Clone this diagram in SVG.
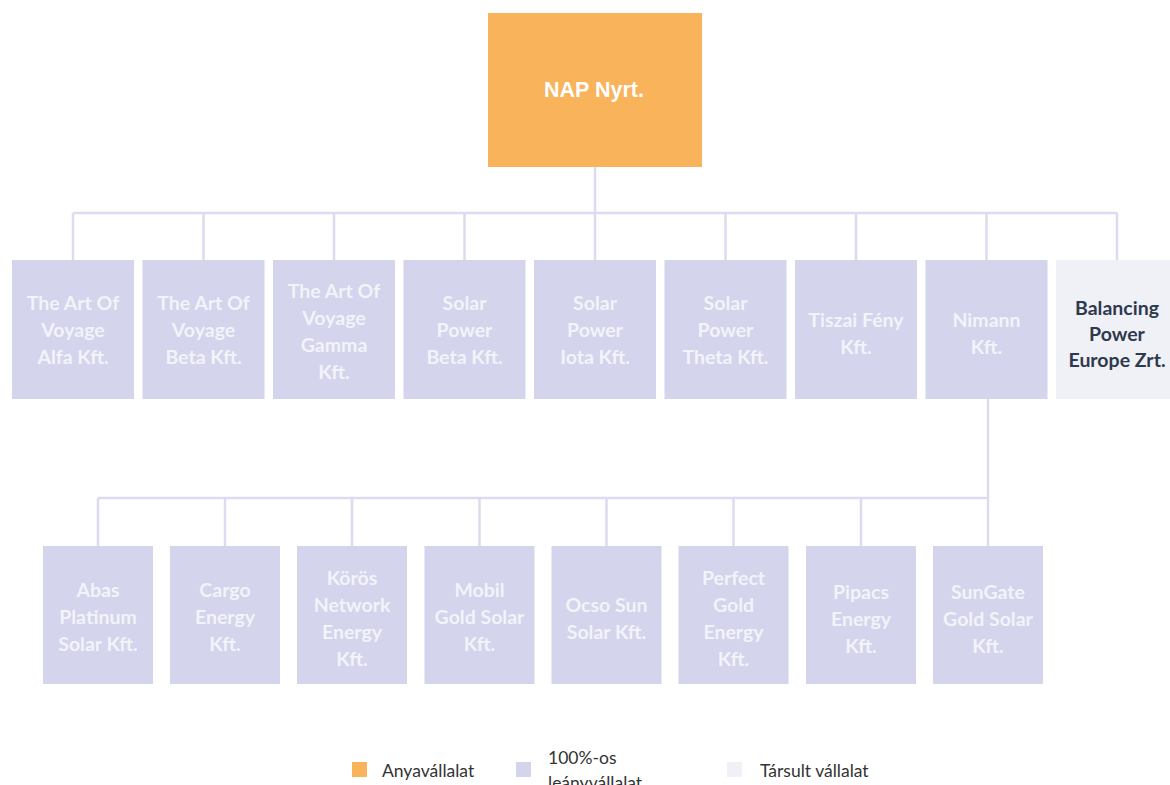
<svg xmlns="http://www.w3.org/2000/svg" width="1170" height="785" viewBox="0 0 1170 785">
<style>
.sub{fill:#d4d4ec}
.assoc{fill:#f0f0f7}
.parent{fill:#f8b35b}
.t{font-family:Lato,"Open Sans","Liberation Sans",sans-serif;font-weight:bold;font-size:19.5px;text-anchor:middle;fill:#f3f3fa}
.td{font-family:Lato,"Open Sans","Liberation Sans",sans-serif;font-weight:bold;font-size:19.5px;text-anchor:middle;fill:#2e3a4c}
.tp{font-family:"Liberation Sans",Arial,sans-serif;font-weight:bold;font-size:21.5px;text-anchor:middle;fill:#ffffff}
.lg{font-family:Lato,"Open Sans","Liberation Sans",sans-serif;font-size:17.5px;fill:#333333}
.c{stroke:#dcdcf0;stroke-width:2.5;fill:none}
</style>
<rect width="1170" height="785" fill="#ffffff"/>
<g id="connectors" class="c">
<path d="M595 167V213M73 213H1117M73 213V260M203.5 213V260M334 213V260M464.5 213V260M595 213V260M725.5 213V260M856 213V260M986.5 213V260M1117 213V260"/>
<path d="M988 399V546M98 498H988M98 498V546M225 498V546M352 498V546M479.5 498V546M606.5 498V546M733.5 498V546M861 498V546"/>
</g>
<g id="nap">
<rect class="parent" x="488" y="13" width="214" height="154"/>
<text class="tp" x="594" y="97">NAP Nyrt.</text>
</g>
<g id="alfa">
<rect class="sub" x="12" y="260" width="122" height="139"/>
<text class="t" x="73"><tspan x="73" y="310">The Art Of</tspan><tspan x="73" y="337">Voyage</tspan><tspan x="73" y="364">Alfa Kft.</tspan></text>
</g>
<g id="beta">
<rect class="sub" x="142.5" y="260" width="122" height="139"/>
<text class="t"><tspan x="203.5" y="310">The Art Of</tspan><tspan x="203.5" y="337">Voyage</tspan><tspan x="203.5" y="364">Beta Kft.</tspan></text>
</g>
<g id="gamma">
<rect class="sub" x="273" y="260" width="122" height="139"/>
<text class="t"><tspan x="334" y="298">The Art Of</tspan><tspan x="334" y="325">Voyage</tspan><tspan x="334" y="352">Gamma</tspan><tspan x="334" y="379">Kft.</tspan></text>
</g>
<g id="spbeta">
<rect class="sub" x="403.5" y="260" width="122" height="139"/>
<text class="t"><tspan x="464.5" y="310">Solar</tspan><tspan x="464.5" y="337">Power</tspan><tspan x="464.5" y="364">Beta Kft.</tspan></text>
</g>
<g id="spiota">
<rect class="sub" x="534" y="260" width="122" height="139"/>
<text class="t"><tspan x="595" y="310">Solar</tspan><tspan x="595" y="337">Power</tspan><tspan x="595" y="364">Iota Kft.</tspan></text>
</g>
<g id="sptheta">
<rect class="sub" x="664.5" y="260" width="122" height="139"/>
<text class="t"><tspan x="725.5" y="310">Solar</tspan><tspan x="725.5" y="337">Power</tspan><tspan x="725.5" y="364">Theta Kft.</tspan></text>
</g>
<g id="tiszai">
<rect class="sub" x="795" y="260" width="122" height="139"/>
<text class="t"><tspan x="856" y="327">Tiszai Fény</tspan><tspan x="856" y="354">Kft.</tspan></text>
</g>
<g id="nimann">
<rect class="sub" x="925.5" y="260" width="122" height="139"/>
<text class="t"><tspan x="986.5" y="327">Nimann</tspan><tspan x="986.5" y="354">Kft.</tspan></text>
</g>
<g id="bpe">
<rect class="assoc" x="1056" y="260" width="122" height="139"/>
<text class="td"><tspan x="1117" y="315">Balancing</tspan><tspan x="1117" y="341">Power</tspan><tspan x="1117" y="367">Europe Zrt.</tspan></text>
</g>
<g id="abas">
<rect class="sub" x="43" y="546" width="110" height="138"/>
<text class="t"><tspan x="98" y="597">Abas</tspan><tspan x="98" y="624">Platinum</tspan><tspan x="98" y="651">Solar Kft.</tspan></text>
</g>
<g id="cargo">
<rect class="sub" x="170" y="546" width="110" height="138"/>
<text class="t"><tspan x="225" y="597">Cargo</tspan><tspan x="225" y="624">Energy</tspan><tspan x="225" y="651">Kft.</tspan></text>
</g>
<g id="koros">
<rect class="sub" x="297" y="546" width="110" height="138"/>
<text class="t"><tspan x="352" y="585">Körös</tspan><tspan x="352" y="612">Network</tspan><tspan x="352" y="639">Energy</tspan><tspan x="352" y="666">Kft.</tspan></text>
</g>
<g id="mobil">
<rect class="sub" x="424.5" y="546" width="110" height="138"/>
<text class="t"><tspan x="479.5" y="597">Mobil</tspan><tspan x="479.5" y="624">Gold Solar</tspan><tspan x="479.5" y="651">Kft.</tspan></text>
</g>
<g id="ocso">
<rect class="sub" x="551.5" y="546" width="110" height="138"/>
<text class="t"><tspan x="606.5" y="612">Ocso Sun</tspan><tspan x="606.5" y="639">Solar Kft.</tspan></text>
</g>
<g id="perfect">
<rect class="sub" x="678.5" y="546" width="110" height="138"/>
<text class="t"><tspan x="733.5" y="585">Perfect</tspan><tspan x="733.5" y="612">Gold</tspan><tspan x="733.5" y="639">Energy</tspan><tspan x="733.5" y="666">Kft.</tspan></text>
</g>
<g id="pipacs">
<rect class="sub" x="806" y="546" width="110" height="138"/>
<text class="t"><tspan x="861" y="599">Pipacs</tspan><tspan x="861" y="626">Energy</tspan><tspan x="861" y="653">Kft.</tspan></text>
</g>
<g id="sungate">
<rect class="sub" x="933" y="546" width="110" height="138"/>
<text class="t"><tspan x="988" y="599">SunGate</tspan><tspan x="988" y="626">Gold Solar</tspan><tspan x="988" y="653">Kft.</tspan></text>
</g>
<g id="legend">
<rect class="parent" x="352" y="762" width="15" height="15"/>
<text class="lg" x="382" y="777">Anyavállalat</text>
<rect class="sub" x="516" y="762" width="15" height="15"/>
<text class="lg"><tspan x="548" y="764">100%-os</tspan><tspan x="548" y="789">leányvállalat</tspan></text>
<rect class="assoc" x="727" y="762" width="15" height="15"/>
<text class="lg" x="760" y="777">Társult vállalat</text>
</g>
</svg>
